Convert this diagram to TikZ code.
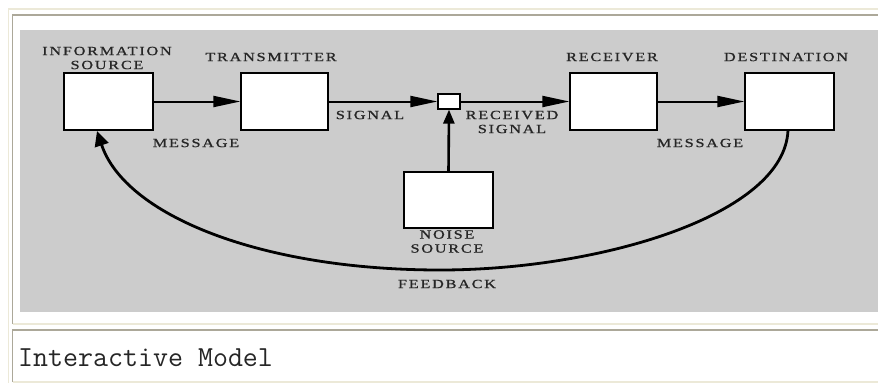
\documentclass[tikz,border=0pt]{standalone}
\usepackage{fontspec}
\setmainfont{Liberation Serif}
\newfontfamily\lblfont[FakeStretch=1.3,LetterSpace=14,FakeBold=1]{Liberation Serif}
\usetikzlibrary{arrows.meta}
\definecolor{bglight}{HTML}{ECE9D8}
\definecolor{bgdark}{HTML}{ACA899}
\definecolor{panel}{HTML}{CCCCCC}
\tikzset{
  box/.style={draw=black, line width=1.2pt, fill=white, inner sep=0pt},
  lbl/.style={font=\lblfont\fontsize{12.5}{12}\selectfont, text=black!85, inner sep=0pt, align=center},
  flow/.style={line width=2pt, -{Triangle[length=27pt,width=11pt]}},
  fb/.style={line width=2.8pt, -{Triangle[length=15pt,width=14pt]}}
}
\begin{document}
\begin{tikzpicture}[x=1pt,y=-1pt]
\useasboundingbox (0,0) rectangle (878,383);
\fill[white] (0,0) rectangle (878,383);
% table borders
\draw[bglight, line width=1.5pt] (8.5,383) -- (8.5,9) -- (878,9);
\draw[bgdark, line width=1.5pt] (12.5,324) -- (12.5,15) -- (878,15);
\draw[bglight, line width=1.5pt] (12.5,324) -- (878,324);
\draw[bgdark, line width=1.5pt] (12.5,382) -- (12.5,330) -- (878,330);
\draw[bglight, line width=1.5pt] (12.5,382) -- (878,382);
% panel
\fill[panel] (20,30) rectangle (878,312);
% boxes
\node[box, minimum width=89pt, minimum height=57pt] (src) at (108.5,101.5) {};
\node[box, minimum width=87pt, minimum height=57pt] (tx) at (284.5,101.5) {};
\node[box, minimum width=22pt, minimum height=15pt] (mix) at (449,101.5) {};
\node[box, minimum width=87pt, minimum height=57pt] (rx) at (613.5,101.5) {};
\node[box, minimum width=89pt, minimum height=57pt] (dst) at (789.5,101.5) {};
\node[box, minimum width=89pt, minimum height=56pt] (noise) at (448.5,200) {};
% labels
\node[lbl] (lsrc) at (107,58) {INFORMATION\\[2pt]SOURCE};
\node[lbl] (ltx) at (271,57) {TRANSMITTER};
\node[lbl] (lrx) at (612,57) {RECEIVER};
\node[lbl] (ldst) at (786,57) {DESTINATION};
\node[lbl] (lmsg1) at (196,143) {MESSAGE};
\node[lbl] (lsig) at (370,115) {SIGNAL};
\node[lbl] (lrsig) at (512,122) {RECEIVED\\[2pt]SIGNAL};
\node[lbl] (lmsg2) at (700,143) {MESSAGE};
\node[lbl] (lnoise) at (447,241.5) {NOISE\\[2pt]SOURCE};
\node[lbl] (lfb) at (447,284) {FEEDBACK};
% connectors
\draw[flow] (src.east) -- (tx.west);
\draw[flow] (tx.east) -- (mix.west);
\draw[flow] (mix.east) -- (rx.west);
\draw[flow] (rx.east) -- (dst.west);
\draw[line width=2.6pt, -{Triangle[length=14pt,width=11pt]}] (noise.north) -- (mix.south);
\coordinate (fbstart) at (788,130);
\coordinate (fbend) at (97,131);
\coordinate (fbmid) at (440,270);
\draw[fb] (fbstart) .. controls (785,215) and (600,270) .. (fbmid) .. controls (260,270) and (125,215) .. (fbend);
% caption
\node[font=\ttfamily\fontsize{29.1}{30}\selectfont, anchor=west, inner sep=0pt, text=black!85] (cap) at (18,358) {Interactive Model};
\end{tikzpicture}
\end{document}
